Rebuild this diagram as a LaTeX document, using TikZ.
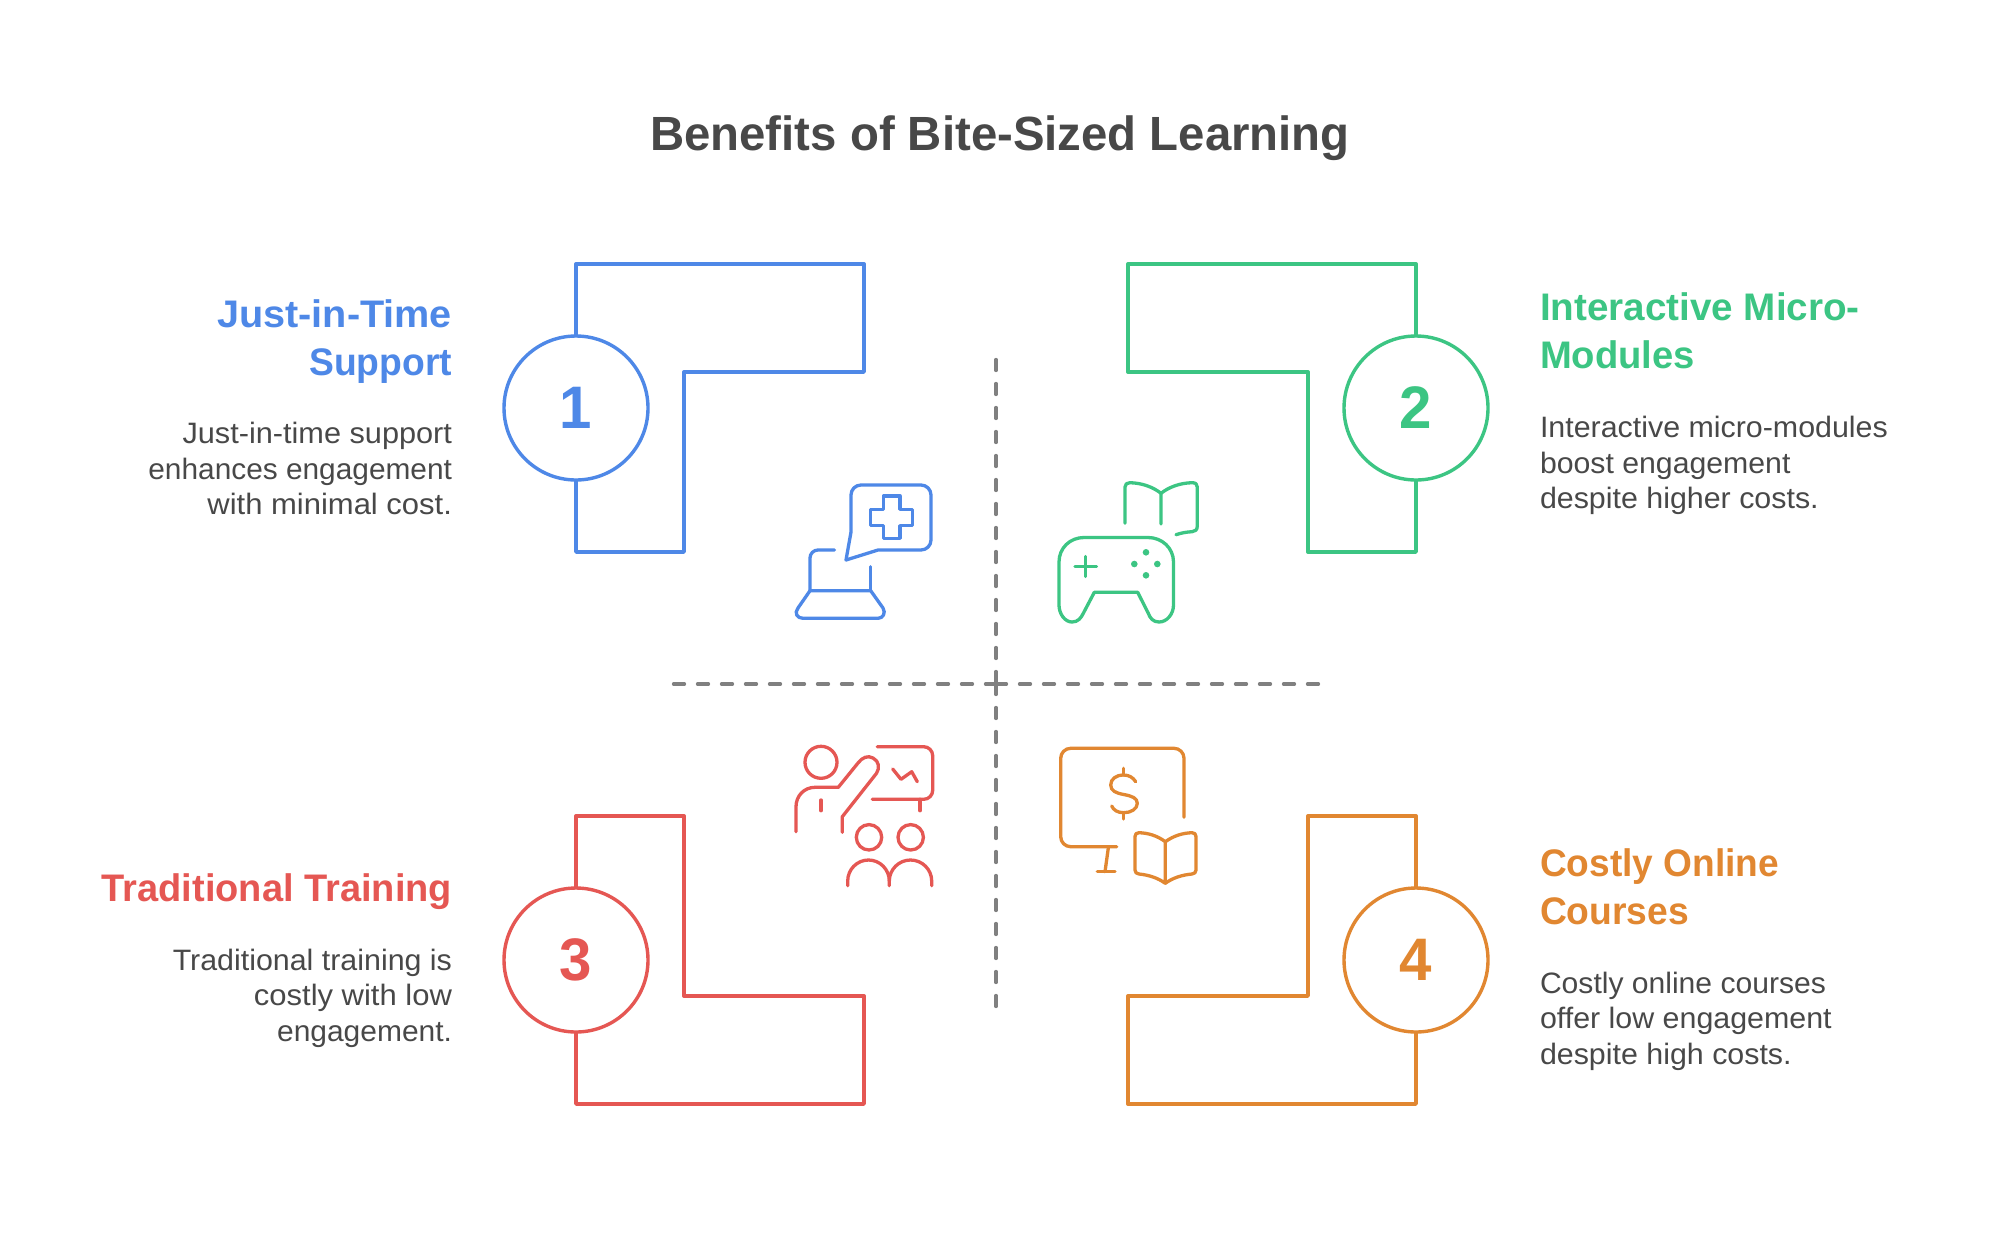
\documentclass[tikz,border=0pt]{standalone}
\usepackage{fontspec}
\setmainfont{Liberation Sans}
\newfontfamily\titlef[FakeStretch=0.986]{Liberation Sans Bold}
\newfontfamily\headf[FakeStretch=0.97]{Liberation Sans Bold}
\newfontfamily\bodyf[FakeStretch=1.03]{Liberation Sans}
\newcommand{\fitw}[2]{\scalebox{#1}[1]{#2}}
\definecolor{cblue}{HTML}{4E88E7}
\definecolor{cgreen}{HTML}{3CC583}
\definecolor{cred}{HTML}{E55753}
\definecolor{corange}{HTML}{E18731}
\definecolor{ctext}{HTML}{484848}
\definecolor{cdash}{HTML}{808080}
\tikzset{
  titletext/.style={text=ctext,font=\titlef\fontsize{48}{58}\selectfont,inner sep=0,outer sep=0},
  headtext/.style={font=\headf\fontsize{38.4}{48}\selectfont,inner sep=0,outer sep=0},
  bodytext/.style={text=ctext,font=\bodyf\fontsize{29.5}{36}\selectfont,inner sep=0,outer sep=0},
  numcircle/.style={circle,draw=#1,text=#1,line width=3.4pt,minimum size=144pt,inner sep=0,outer sep=0,font=\headf\fontsize{60}{60}\selectfont},
  frameline/.style={draw=#1,line width=3.4pt,line join=round},
  iconline/.style={draw=#1,line width=3.3pt,line cap=round,line join=round},
  dashline/.style={draw=cdash,line width=3.3pt,line cap=round,dash pattern=on 11pt off 13pt},
}
\begin{document}
\begin{tikzpicture}[x=1pt,y=-1pt]
\useasboundingbox (0,0) rectangle (2000,1251);
\fill[white] (0,0) rectangle (2000,1251);

\node[titletext,anchor=base] (title) at (1000,150) {Benefits of Bite-Sized Learning};

% axes
\coordinate (axc) at (996,684);
\coordinate (axt) at (996,359.5);
\coordinate (axb) at (996,1006.5);
\coordinate (axl) at (673.5,684);
\coordinate (axr) at (1318.5,684);
\draw[dashline] (axt) -- (axc);
\draw[dashline] (axb) -- (axc);
\draw[dashline] (axl) -- (axc);
\draw[dashline] (axr) -- (axc);

% numbered circles
\node[numcircle=cblue] (c1) at (576,408) {1};
\node[numcircle=cgreen] (c2) at (1416,408) {2};
\node[numcircle=cred] (c3) at (576,960) {3};
\node[numcircle=corange] (c4) at (1416,960) {4};

% frames
\draw[frameline=cblue] (c1.north) -- (576,264) -- (864,264) -- (864,372) -- (684,372) -- (684,552) -- (576,552) -- (c1.south);
\draw[frameline=cgreen] (c2.north) -- (1416,264) -- (1128,264) -- (1128,372) -- (1308,372) -- (1308,552) -- (1416,552) -- (c2.south);
\draw[frameline=cred] (c3.north) -- (576,816) -- (684,816) -- (684,996) -- (864,996) -- (864,1104) -- (576,1104) -- (c3.south);
\draw[frameline=corange] (c4.north) -- (1416,816) -- (1308,816) -- (1308,996) -- (1128,996) -- (1128,1104) -- (1416,1104) -- (c4.south);

% texts
\node[headtext,text=cblue,anchor=base east] (h1a) at (452,327) {\fitw{1.064}{Just-in-Time}};
\node[headtext,text=cblue,anchor=base east] (h1b) at (452,375) {Support};
\node[bodytext,anchor=base east] (b1a) at (452,443) {\fitw{1.01}{Just-in-time support}};
\node[bodytext,anchor=base east] (b1b) at (452,479) {\fitw{0.982}{enhances engagement}};
\node[bodytext,anchor=base east] (b1c) at (452,514.5) {\fitw{1.02}{with minimal cost.}};

\node[headtext,text=cgreen,anchor=base west] (h2a) at (1540,320) {\fitw{1.037}{Interactive Micro-}};
\node[headtext,text=cgreen,anchor=base west] (h2b) at (1540,368) {\fitw{1.025}{Modules}};
\node[bodytext,anchor=base west] (b2a) at (1540,437.5) {Interactive micro-modules};
\node[bodytext,anchor=base west] (b2b) at (1540,473) {\fitw{0.995}{boost engagement}};
\node[bodytext,anchor=base west] (b2c) at (1540,508.5) {despite higher costs.};

\node[headtext,text=cred,anchor=base east] (h3a) at (452,901) {\fitw{1.02}{Traditional Training}};
\node[bodytext,anchor=base east] (b3a) at (452,970) {Traditional training is};
\node[bodytext,anchor=base east] (b3b) at (452,1005.5) {\fitw{1.02}{costly with low}};
\node[bodytext,anchor=base east] (b3c) at (452,1041) {\fitw{0.986}{engagement.}};

\node[headtext,text=corange,anchor=base west] (h4a) at (1540,876) {\fitw{0.995}{Costly Online}};
\node[headtext,text=corange,anchor=base west] (h4b) at (1540,924) {Courses};
\node[bodytext,anchor=base west] (b4a) at (1540,993) {\fitw{0.99}{Costly online courses}};
\node[bodytext,anchor=base west] (b4b) at (1540,1028.5) {offer low engagement};
\node[bodytext,anchor=base west] (b4c) at (1540,1064) {despite high costs.};

% icon 1: laptop and chat
\draw[iconline=cblue] (846,560) -- (851,532) [rounded corners=10pt] -- (851,485) -- (931,485) -- (931,550) [sharp corners] -- (878,550) -- cycle;
\draw[iconline=cblue] (883.3,496) -- (900,496) -- (900,509.3) -- (912.7,509.3) -- (912.7,525.7) -- (900,525.7) -- (900,538.3) -- (883.3,538.3) -- (883.3,525.7) -- (870.7,525.7) -- (870.7,509.3) -- (883.3,509.3) -- cycle;
\draw[iconline=cblue,rounded corners=8pt] (834.5,550) -- (810,550) [sharp corners] -- (810,590.7);
\draw[iconline=cblue] (870.7,566.7) -- (870.7,590.7);
\draw[iconline=cblue] (810,590.7) -- (870.7,590.7) -- (883,608) .. controls (886,613) and (883,618.3) .. (878,618.3) -- (803,618.3) .. controls (797,618.3) and (794,613) .. (798,608) -- cycle;

% icon 2: gamepad and book
\draw[iconline=cgreen] (1059,562) .. controls (1059,548) and (1070,537.5) .. (1084,537.5) -- (1148,537.5) .. controls (1162,537.5) and (1173.5,548) .. (1173.5,562) -- (1173.5,605) .. controls (1173.5,614) and (1167,622) .. (1159,622) .. controls (1153,622) and (1150,618) .. (1148.3,613.3) -- (1137.7,592.3) -- (1094.3,592.3) -- (1083.3,613.3) .. controls (1081,618) and (1078,622) .. (1072,622) .. controls (1065,622) and (1059,614) .. (1059,605) -- cycle;
\draw[iconline=cgreen] (1075,566.7) -- (1096.5,566.7);
\draw[iconline=cgreen] (1085.7,556.5) -- (1085.7,576.5);
\fill[cgreen] (1146,552.3) circle (3.3);
\fill[cgreen] (1134.3,564) circle (3.3);
\fill[cgreen] (1157.3,564) circle (3.3);
\fill[cgreen] (1146,575.3) circle (3.3);
\draw[iconline=cgreen] (1125,523.3) -- (1125,487) .. controls (1125,484) and (1127,482.7) .. (1130,482.7) .. controls (1142,483) and (1153,487) .. (1161,493.3) -- (1161,524);
\draw[iconline=cgreen] (1161,493.3) .. controls (1169,487) and (1180,483) .. (1192,482.7) .. controls (1195.5,482.7) and (1197.3,484) .. (1197.3,487) -- (1197.3,526) .. controls (1197.3,530) and (1195,531.5) .. (1192,531.7) .. controls (1186,532) and (1181,533) .. (1176,534.7);

% icon 3: presenter and audience
\draw[iconline=cred] (821,762.3) circle (16);
\draw[iconline=cred] (796,831.7) -- (796,806.7) .. controls (796,796) and (804,787.3) .. (815,787.3) -- (838.3,787.3) -- (858,763) .. controls (862,757.5) and (868,755) .. (873,758) .. controls (879,761) and (880,768) .. (876.5,773.3) -- (842.3,816.7) -- (842.3,832.3);
\draw[iconline=cred] (821,800) -- (821,810.7);
\draw[iconline=cred,rounded corners=9pt] (877.3,746.7) -- (932.7,746.7) -- (932.7,799.3) -- (872.3,799.3);
\draw[iconline=cred] (920,799.3) -- (920,810.7);
\draw[iconline=cred] (892.7,769) -- (901,779.3) -- (911.7,771.7) -- (917.3,781.7);
\draw[iconline=cred] (869,837.3) circle (12.7);
\draw[iconline=cred] (910.7,837.3) circle (12.7);
\draw[iconline=cred] (847.7,885.7) -- (847.7,881) .. controls (847.7,869.5) and (857,860) .. (868.5,860) .. controls (880,860) and (889.3,869.5) .. (889.3,881) -- (889.3,885.7);
\draw[iconline=cred] (889.3,881) .. controls (889.3,869.5) and (898.8,860) .. (910.5,860) .. controls (922.2,860) and (931.7,869.5) .. (931.7,881) -- (931.7,885.7);

% icon 4: monitor and book
\draw[iconline=corange,rounded corners=10pt] (1184,817.3) -- (1184,748.3) -- (1060.7,748.3) -- (1060.7,846.7) [sharp corners] -- (1116.7,846.7);
\draw[iconline=corange] (1108.3,848) -- (1105,871.7);
\draw[iconline=corange] (1097.3,871.7) -- (1115,871.7);
\draw[iconline=corange] (1135.7,781.7) .. controls (1133,777.5) and (1129,775) .. (1123.7,775) .. controls (1116,775) and (1110.7,779) .. (1110.7,785) .. controls (1110.7,791) and (1116,793) .. (1123.7,794.5) .. controls (1132,796) and (1137.3,798) .. (1137.3,803.3) .. controls (1137.3,809) and (1131,812.7) .. (1123.7,812.7) .. controls (1117.5,812.7) and (1113.5,810) .. (1111.7,806);
\draw[iconline=corange] (1123.7,768.3) -- (1123.7,775);
\draw[iconline=corange] (1123.7,812.7) -- (1123.7,819);
\draw[iconline=corange] (1165.3,841.7) .. controls (1157,835.5) and (1148,833) .. (1139,832.7) .. controls (1136.5,832.7) and (1135,834) .. (1135,836.5) -- (1135,870) .. controls (1135,872.5) and (1136.5,873.7) .. (1139,874) .. controls (1149,875) and (1158,878) .. (1165.3,883.3) .. controls (1172.5,878) and (1181.5,875) .. (1192,874) .. controls (1194.5,873.7) and (1196,872.5) .. (1196,870) -- (1196,836.5) .. controls (1196,834) and (1194.5,832.7) .. (1192,832.7) .. controls (1183,833) and (1174,835.5) .. (1165.3,841.7) -- (1165.3,883.3);
\end{tikzpicture}
\end{document}
